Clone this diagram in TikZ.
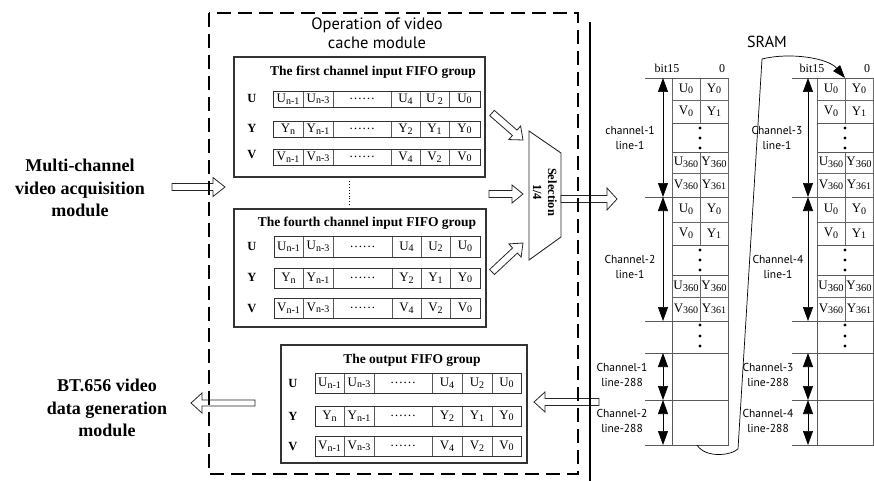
\documentclass[tikz,border=0pt]{standalone}
\usepackage{fontspec}
\setmainfont{Liberation Serif}
\newfontfamily\labelsans{PT Sans}
\usetikzlibrary{calc,arrows.meta}

% small lowered index used inside the FIFO and SRAM cells
\newcommand\lo[1]{{\fontsize{10}{10}\selectfont\raisebox{-1.5pt}{#1}}}
\newcommand\lot[1]{{\fontsize{10.5}{10.5}\selectfont\raisebox{-2.2pt}{#1}}}

% hollow block arrow: tail, tip, shaft half width, head half width, head length
\newcommand\harrow[5]{%
  \coordinate (ha) at (#1);
  \coordinate (hb) at (#2);
  \coordinate (hh) at ($(hb)!#5!(ha)$);
  \draw[hollow] ($(ha)!#3!90:(hb)$) -- ($(hh)!#3!90:(hb)$) -- ($(hh)!#4!90:(hb)$)
    -- (hb) -- ($(hh)!#4!-90:(hb)$) -- ($(hh)!#3!-90:(hb)$) -- ($(ha)!#3!-90:(hb)$) -- cycle;
}

% one FIFO row: name prefix, y of top, y of bottom, cells x-left/x-right/text
\newcommand\fiforow[4]{%
  \foreach \xa/\xb/\txt [count=\k] in {#4}{
    \node[cell, minimum width={\xb-\xa}, minimum height={#3-#2}]
      (#1-\k) at ({(\xa+\xb)/2},{(#2+#3)/2}) {\txt};
  }
  \draw[rowframe] (#1-1.north west) rectangle (#1-6.south east);
}

\tikzset{
  hollow/.style={draw=black!85, fill=white, line width=0.8pt, line join=miter},
  groupbox/.style={draw=black!80, line width=1.1pt},
  rowframe/.style={draw=black!80, line width=0.9pt},
  cell/.style={draw=black!65, line width=0.7pt, inner sep=0pt, outer sep=0pt,
    font=\fontsize{13}{13}\selectfont},
  grouptitle/.style={font=\fontsize{13.5}{14}\selectfont\bfseries},
  rowlabel/.style={font=\fontsize{12.5}{12.5}\selectfont\bfseries},
  bigtitle/.style={font=\fontsize{18}{22.5}\selectfont\bfseries, align=center},
  sanslabel/.style={font=\labelsans\fontsize{11.5}{14.5}\selectfont, align=center},
  sramcell/.style={draw=black!60, line width=0.7pt, inner sep=0pt, outer sep=0pt,
    font=\fontsize{13}{13}\selectfont},
  gridline/.style={draw=black!65, line width=0.7pt},
  span/.style={line width=0.7pt, {Triangle[length=14pt,width=10pt]}-{Triangle[length=14pt,width=10pt]}},
  dot/.style={circle, fill=black, inner sep=0pt, minimum size=3.4pt},
}

\begin{document}
\begin{tikzpicture}[x=1pt,y=-1pt]
\useasboundingbox (0,0) rectangle (874,481);

% ---------- outside modules ----------
\node[bigtitle] (acq) at (80,188) {Multi-channel\\video acquisition\\module};
\node[bigtitle] (bt) at (107,408) {BT.656 video\\data generation\\module};

% ---------- first input FIFO group ----------
\draw[groupbox] (234,57) rectangle (485,177);
\node[grouptitle] (g1t) at (373,72) {The first channel input FIFO group};
\fiforow{g1u}{91}{107}{273/303/{U\lo{n-1}}, 303/333/{U\lo{n-3}}, 333/391/{……}, 391/420/{U\lo4}, 420/449/{U\,\lo2}, 449/480/{U\lo0}}
\fiforow{g1y}{121}{137}{273/303/{Y\lo{n}}, 303/333/{Y\lo{n-1}}, 333/391/{……}, 391/420/{Y\lo2}, 420/449/{Y\lo1}, 449/480/{Y\lo0}}
\fiforow{g1v}{149}{165}{273/303/{V\lo{n-1}}, 303/333/{V\lo{n-3}}, 333/391/{……}, 391/420/{V\lo4}, 420/449/{V\lo2}, 449/480/{V\lo0}}
\node[rowlabel] (g1lu) at (252,98) {U};
\node[rowlabel] (g1ly) at (252,128) {Y};
\node[rowlabel] (g1lv) at (252,155) {V};

% dotted gap between the groups
\draw[line width=0.9pt, dotted] (349,181) -- (349,205);

% ---------- fourth input FIFO group ----------
\draw[groupbox] (234,209) rectangle (486,327);
\node[grouptitle] (g4t) at (367,223) {The fourth channel input FIFO group};
\fiforow{g4u}{236}{257}{274/303/{U\lo{n-1}}, 303/333/{U\lo{n-3}}, 333/392/{……}, 392/421/{U\lo4}, 421/450/{U\lo2}, 450/480/{U\lo0}}
\fiforow{g4y}{268}{288}{274/303/{Y\lo{n}}, 303/333/{Y\lo{n-1}}, 333/392/{……}, 392/421/{Y\lo2}, 421/450/{Y\lo1}, 450/480/{Y\lo0}}
\fiforow{g4v}{298}{318}{274/303/{V\lo{n-1}}, 303/333/{V\lo{n-3}}, 333/392/{……}, 392/421/{V\lo4}, 421/450/{V\lo2}, 450/480/{V\lo0}}
\node[rowlabel] (g4lu) at (252,246) {U};
\node[rowlabel] (g4ly) at (252,277) {Y};
\node[rowlabel] (g4lv) at (252,308) {V};

% ---------- output FIFO group ----------
\draw[groupbox] (281,345) rectangle (527,463);
\node[grouptitle] (got) at (412,360) {The output FIFO group};
\fiforow{gou}{373}{393}{315/344/{U\lo{n-1}}, 344/374/{U\lo{n-3}}, 374/432/{……}, 432/462/{U\lo4}, 462/492/{U\lo2}, 492/521/{U\lo0}}
\fiforow{goy}{406}{426}{315/344/{Y\lo{n}}, 344/374/{Y\lo{n-1}}, 374/432/{……}, 432/462/{Y\lo2}, 462/492/{Y\lo1}, 492/521/{Y\lo0}}
\fiforow{gov}{436}{456}{315/344/{V\lo{n-1}}, 344/374/{V\lo{n-3}}, 374/432/{……}, 432/462/{V\lo4}, 462/492/{V\lo2}, 492/521/{V\lo0}}
\node[rowlabel] (golu) at (293,383) {U};
\node[rowlabel] (goly) at (293,416) {Y};
\node[rowlabel] (golv) at (293,446) {V};

% ---------- 1/4 selector ----------
\draw[line width=0.9pt, draw=black!85] (529,131) -- (561,153) -- (561,237) -- (529,260) -- cycle;
\node[rotate=-90, font=\fontsize{12.5}{15}\selectfont\bfseries, align=center] (sel) at (545,192) {Selection\\1/4};

% ---------- block arrows ----------
\harrow{172,187}{225,187}{3.5pt}{9.5pt}{12pt}
\harrow{492,113}{523,140}{3.5pt}{9pt}{11pt}
\harrow{489,194}{523,194}{3.5pt}{9pt}{11pt}
\harrow{492,272}{523,243}{3.5pt}{9pt}{11pt}
\harrow{561,199}{617,199}{3.5pt}{11pt}{10pt}
\harrow{599,402}{534,402}{3.5pt}{10pt}{11pt}
\harrow{255,403}{191,403}{3pt}{10pt}{11pt}

% ---------- module frame and separator ----------
\draw[line width=2.4pt, dash pattern=on 14pt off 7pt] (209,13) rectangle (578,474);
\node[font=\labelsans\fontsize{16.5}{19}\selectfont, align=center] (optitle) at (377,33) {Operation of video\\cache module};
\draw[line width=2pt] (590,22) -- (590,481);

% ---------- SRAM ----------
\node[font=\labelsans\fontsize{16}{16}\selectfont] (sram) at (767,42) {SRAM};

\foreach \c/\xt/\xa/\xl/\xm/\xr in {sa/645/663/672/700/728, sb/792/808/817/845/873}{
  \node[font=\fontsize{12}{12}\selectfont, anchor=base] (\c-bit) at (\xa+4,73) {bit15};
  \node[font=\fontsize{12}{12}\selectfont, anchor=base] (\c-zero) at (\xr-6,73) {0};
  % word cells
  \foreach \yt/\yb/\ta/\tb [count=\k] in {
      78/100/{U\lo0}/{Y\lo0}, 100/123/{V\lo0}/{Y\lo1},
      152/173/{U\lo{360}}/{Y\lot{360}}, 173/197/{V\lo{360}}/{Y\lo{361}},
      197/222/{U\lo0}/{Y\lo0}, 222/245/{V\lo0}/{Y\lo1},
      275/297/{U\lot{360}}/{Y\lot{360}}, 297/321/{V\lo{360}}/{Y\lo{361}}}{
    \node[sramcell, minimum width={\xm-\xl}, minimum height={\yb-\yt}]
      (\c-l\k) at ({(\xl+\xm)/2},{(\yt+\yb)/2}) {\ta};
    \node[sramcell, minimum width={\xr-\xm}, minimum height={\yb-\yt}]
      (\c-r\k) at ({(\xm+\xr)/2},{(\yt+\yb)/2}) {\tb};
  }
  % gaps of omitted words
  \draw[gridline] (\xl,123) rectangle (\xr,152);
  \draw[gridline] (\xl,245) rectangle (\xr,275);
  \draw[gridline] (\xl,321) rectangle (\xr,445);
  \draw[gridline] (\xl,400) -- (\xr,400);
  \foreach \yy in {128,138,148, 250,260,270, 325,336,346}
    \node[dot] at (\xm,\yy) {};
  % line boundaries
  \foreach \yy in {78,197,321,353,400,445}
    \draw[gridline] (\xt,\yy) -- (\xr,\yy);
  \coordinate (\c-p0) at (\xa,78);
  \coordinate (\c-p1) at (\xa,197);
  \coordinate (\c-p2) at (\xa,321);
  \coordinate (\c-p3) at (\xa,353);
  \coordinate (\c-p4) at (\xa,400);
  \coordinate (\c-p5) at (\xa,445);
  \draw[span] (\c-p0) -- (\c-p1);
  \draw[span] (\c-p1) -- (\c-p2);
  \draw[span] (\c-p3) -- (\c-p4);
  \draw[span] (\c-p4) -- (\c-p5);
}

\node[sanslabel] (la1) at (630,138) {channel-1\\line-1};
\node[sanslabel] (la2) at (630,267) {Channel-2\\line-1};
\node[sanslabel] (la3) at (622,375) {Channel-1\\line-288};
\node[sanslabel] (la4) at (622,421) {Channel-2\\line-288};
\node[sanslabel] (lb1) at (777,138) {Channel-3\\line-1};
\node[sanslabel] (lb2) at (778,267) {Channel-4\\line-1};
\node[sanslabel] (lb3) at (768,375) {Channel-3\\line-288};
\node[sanslabel] (lb4) at (768,421) {Channel-4\\line-288};

% wrap from the end of the first bank to the top of the second
\coordinate (wrapa) at (697,445);
\coordinate (wrapb) at (845,78);
\draw[line width=0.7pt, -{Triangle[length=13pt,width=9pt]}]
  (wrapa) .. controls (705,458) and (730,456) .. (738,449)
  -- (762,59) .. controls (790,52) and (828,58) .. (wrapb);

\end{tikzpicture}
\end{document}
